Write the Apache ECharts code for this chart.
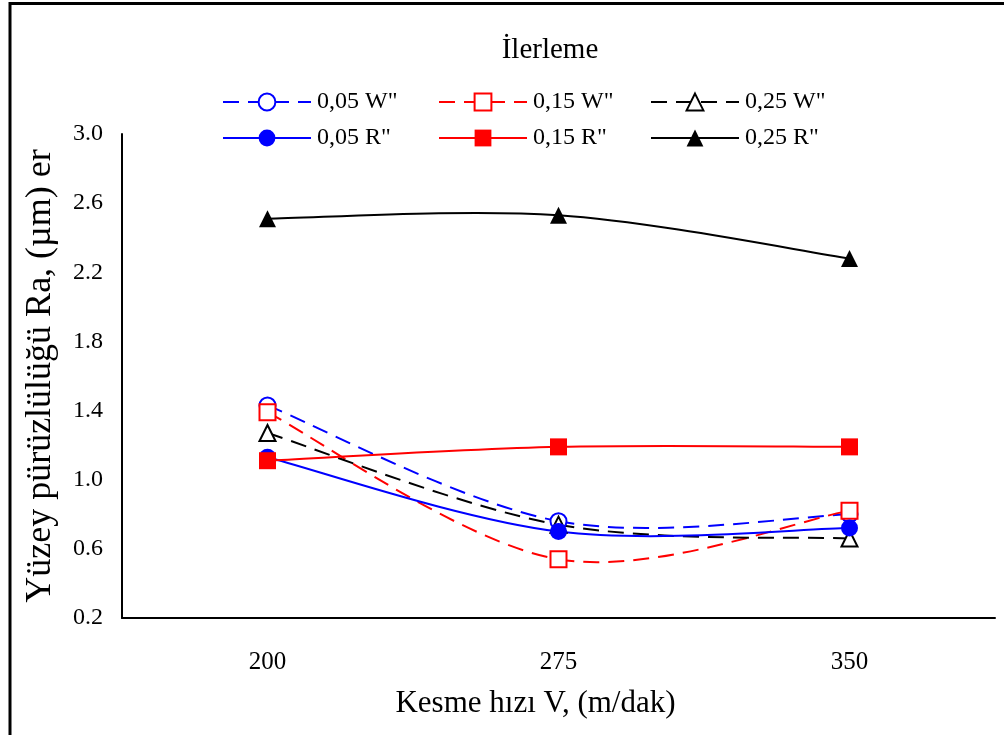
<!DOCTYPE html>
<html>
<head>
<meta charset="utf-8">
<script src="https://cdn.jsdelivr.net/npm/echarts@6/dist/echarts.min.js"></script>
<style>
  html, body { margin: 0; padding: 0; background: #fff; }
  #chart { width: 1004px; height: 735px; }
</style>
</head>
<body>
<div id="chart"></div>
<script>
// Cutting speed categories (m/dak)
const speeds = ['200', '275', '350'];

// Surface roughness Ra (µm) per feed rate, W" and R" inserts
const ra005W = [1.43, 0.76, 0.80];
const ra015W = [1.39, 0.54, 0.82];
const ra025W = [1.27, 0.74, 0.66];
const ra005R = [1.13, 0.70, 0.72];
const ra015R = [1.11, 1.19, 1.19];
const ra025R = [2.51, 2.53, 2.28];

const seriesNames = ['0,05 W"', '0,15 W"', '0,25 W"', '0,05 R"', '0,15 R"', '0,25 R"'];
const yLabels = ['0.2', '0.6', '1.0', '1.4', '1.8', '2.2', '2.6', '3.0'];

const FONT = '"Liberation Serif", "Times New Roman", serif';
const BLUE = '#0000ff', RED = '#ff0000', BLACK = '#000000';
const DASH = [16, 9];

const defs = [
  { name: seriesNames[0], data: ra005W, color: BLUE,  symbol: 'circle',   open: true },
  { name: seriesNames[1], data: ra015W, color: RED,   symbol: 'rect',     open: true },
  { name: seriesNames[2], data: ra025W, color: BLACK, symbol: 'triangle', open: true },
  { name: seriesNames[3], data: ra005R, color: BLUE,  symbol: 'circle',   open: false },
  { name: seriesNames[4], data: ra015R, color: RED,   symbol: 'rect',     open: false },
  { name: seriesNames[5], data: ra025R, color: BLACK, symbol: 'triangle', open: false }
];

// Smoothed curve through the points (cardinal spline, tension 1/6),
// placed with the chart's own coordinate system.
function curveSeries(d) {
  return {
    type: 'custom',
    name: d.name + ' curve',
    silent: true,
    z: 1,
    data: [0],
    renderItem: (params, api) => {
      const pts = d.data.map((v, i) => api.coord([i, v]));
      const children = [];
      for (let i = 0; i < pts.length - 1; i++) {
        const p0 = pts[Math.max(i - 1, 0)], p1 = pts[i], p2 = pts[i + 1], p3 = pts[Math.min(i + 2, pts.length - 1)];
        children.push({
          type: 'bezierCurve',
          shape: {
            x1: p1[0], y1: p1[1], x2: p2[0], y2: p2[1],
            cpx1: p1[0] + (p2[0] - p0[0]) / 6, cpy1: p1[1] + (p2[1] - p0[1]) / 6,
            cpx2: p2[0] - (p3[0] - p1[0]) / 6, cpy2: p2[1] - (p3[1] - p1[1]) / 6
          },
          style: { stroke: d.color, lineWidth: 2, fill: null, lineDash: d.open ? DASH : null }
        });
      }
      return { type: 'group', children };
    }
  };
}

// Markers for each data point (line itself hidden; the curve above draws it)
function markerSeries(d) {
  return {
    name: d.name, type: 'line', data: d.data, z: 2,
    symbol: d.symbol, symbolSize: d.open ? 16 : 17,
    lineStyle: { color: d.color, width: 2, opacity: 0 },
    itemStyle: d.open
      ? { color: '#ffffff', borderColor: d.color, borderWidth: 2 }
      : { color: d.color, borderColor: d.color, borderWidth: 0 }
  };
}

// one legend block per entry, laid out as a 3 x 2 table
const legendCols = [222, 438, 650];
const legendRows = [90, 126];
const legends = defs.map((d, i) => ({
  data: [d.name],
  left: legendCols[i % 3],
  top: legendRows[Math.floor(i / 3)],
  itemWidth: 88,
  itemHeight: 21,
  padding: 0,
  selectedMode: false,
  lineStyle: { color: d.color, width: 2, type: d.open ? DASH : 'solid', opacity: 1 },
  textStyle: { fontFamily: FONT, fontSize: 24, color: '#000', padding: [0, 0, 0, 1] }
}));

const chart = echarts.init(document.getElementById('chart'), null, { renderer: 'canvas' });
chart.setOption({
  animation: false,
  backgroundColor: '#ffffff',
  title: {
    text: 'İlerleme',
    left: 545, top: 31, textAlign: 'center',
    textStyle: { fontFamily: FONT, fontSize: 29, fontWeight: 'normal', color: '#000' }
  },
  legend: legends,
  grid: { left: 122, right: 9, top: 134, bottom: 117, containLabel: false },
  xAxis: {
    type: 'category',
    data: speeds,
    boundaryGap: true,
    name: 'Kesme hızı V, (m/dak)',
    nameLocation: 'middle',
    nameGap: 70,
    nameTextStyle: { fontFamily: FONT, fontSize: 31, color: '#000', padding: [0, 46, 0, 0] },
    axisLine: { lineStyle: { color: '#000', width: 2 } },
    axisTick: { show: false },
    axisLabel: { fontFamily: FONT, fontSize: 25, color: '#000', margin: 32 },
    splitLine: { show: false }
  },
  yAxis: {
    type: 'value',
    min: 0.2, max: 3.0, interval: 0.2,
    name: 'Yüzey pürüzlülüğü Ra, (µm) er',
    nameLocation: 'middle',
    nameGap: 63,
    nameTextStyle: { fontFamily: FONT, fontSize: 36, color: '#000' },
    axisLine: { show: true, lineStyle: { color: '#000', width: 2 } },
    axisTick: { show: false },
    splitLine: { show: false },
    axisLabel: {
      fontFamily: FONT, fontSize: 24, color: '#000', margin: 19,
      formatter: (v) => {
        const s = v.toFixed(1);
        return yLabels.includes(s) ? s : '';
      }
    }
  },
  graphic: [{
    type: 'rect',
    shape: { x: 10, y: 3.5, width: 1100, height: 800 },
    style: { fill: 'none', stroke: '#000', lineWidth: 3 },
    silent: true
  }],
  series: defs.map(curveSeries).concat(defs.map(markerSeries))
});
</script>
</body>
</html>
